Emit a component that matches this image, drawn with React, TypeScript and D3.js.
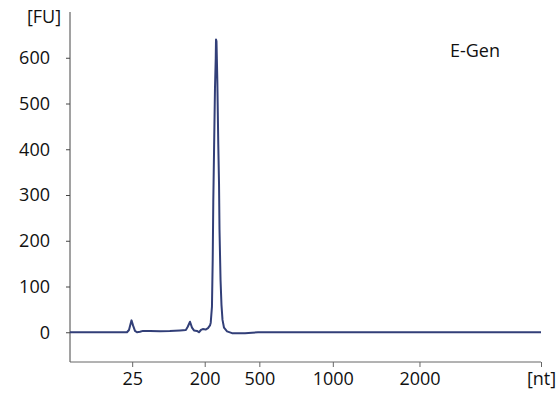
import * as d3 from "d3";
import React, { useEffect, useRef } from "react";

// migration time (s) and fluorescence (FU)
const times = [
  19, 25.05, 25.26, 25.53, 25.69, 25.9, 26.11, 26.43, 26.75, 27.5, 28.55, 29.6,
  30.68, 31.3, 31.5, 31.74, 31.95, 32.16, 32.48, 32.69, 32.9, 33.1, 33.4, 33.65,
  33.86, 33.94, 34.07, 34.15, 34.21, 34.29, 34.39, 34.47, 34.5, 34.55, 34.64,
  34.74, 34.82, 34.87, 34.98, 35.08, 35.19, 35.35, 35.67, 36.2, 37.58, 38.32,
  38.96, 69,
];
const fluorescence = [
  0, 0, 5, 26, 15, 3, 0, 1, 3, 3, 2, 2.5, 4, 5, 12, 23, 10, 4, 3, 0, 5, 7, 6,
  9, 15, 21, 56, 159, 284, 394, 532, 598, 640, 636, 550, 411, 324, 225, 115,
  60, 27, 10, 2, -2, -2, -1, 0, 0,
];

// ladder positions on the time axis and their size labels
const ladderTimes = [25.6, 33.3, 39.1, 46.9, 56.1, 69];
const ladderLabels = ["25", "200", "500", "1000", "2000", "[nt]"];
const yTicks = [0, 100, 200, 300, 400, 500, 600];

const width = 559;
const height = 394;
const margin = { left: 70, right: 18, top: 12, bottom: 32 };
const font = "'Open Sans', sans-serif";

const App = () => {
  const svgRef = useRef(null);

  useEffect(() => {
    const svg = d3.select(svgRef.current);
    svg.selectAll("*").remove();

    const x = d3
      .scaleLinear()
      .domain([19, 69])
      .range([margin.left, width - margin.right]);
    const y = d3
      .scaleLinear()
      .domain([-65, 700])
      .range([height - margin.bottom, margin.top]);

    const yAxis = d3
      .axisLeft(y)
      .tickValues(yTicks)
      .tickSize(4)
      .tickPadding(16);
    svg
      .append("g")
      .attr("transform", `translate(${margin.left},0)`)
      .call(yAxis)
      .call((g) =>
        g.select(".domain").attr("d", `M0,${margin.top}V${height - margin.bottom}`),
      )
      .call((g) =>
        g
          .selectAll("text")
          .attr("font-family", font)
          .attr("font-size", 18)
          .attr("fill", "#111"),
      )
      .call((g) => g.selectAll("line, path").attr("stroke", "#444"));

    const xAxis = d3
      .axisBottom(x)
      .tickValues(ladderTimes)
      .tickFormat((_, i) => ladderLabels[i])
      .tickSize(5)
      .tickPadding(5);
    svg
      .append("g")
      .attr("transform", `translate(0,${height - margin.bottom})`)
      .call(xAxis)
      .call((g) =>
        g
          .select(".domain")
          .attr("d", `M${margin.left},0H${width - margin.right}`),
      )
      .call((g) =>
        g
          .selectAll("text")
          .attr("font-family", font)
          .attr("font-size", 18)
          .attr("fill", "#111"),
      )
      .call((g) => g.selectAll("line, path").attr("stroke", "#666"));

    svg
      .append("text")
      .attr("x", 44)
      .attr("y", 23)
      .attr("text-anchor", "middle")
      .attr("font-family", font)
      .attr("font-size", 18)
      .attr("fill", "#111")
      .text("[FU]");

    svg
      .append("text")
      .attr("x", 475)
      .attr("y", 57)
      .attr("text-anchor", "middle")
      .attr("font-family", font)
      .attr("font-size", 18)
      .attr("fill", "#111")
      .text("E-Gen");

    const line = d3
      .line<number>()
      .x((t) => x(t))
      .y((_, i) => y(fluorescence[i]));

    svg
      .append("path")
      .datum(times)
      .attr("d", line)
      .attr("fill", "none")
      .attr("stroke", "#323f78")
      .attr("stroke-width", 2)
      .attr("stroke-linejoin", "round");
  }, []);

  return (
    <svg
      ref={svgRef}
      width={width}
      height={height}
      style={{ position: "absolute", left: 0, top: 0, background: "#fff" }}
    />
  );
};

export default App;
